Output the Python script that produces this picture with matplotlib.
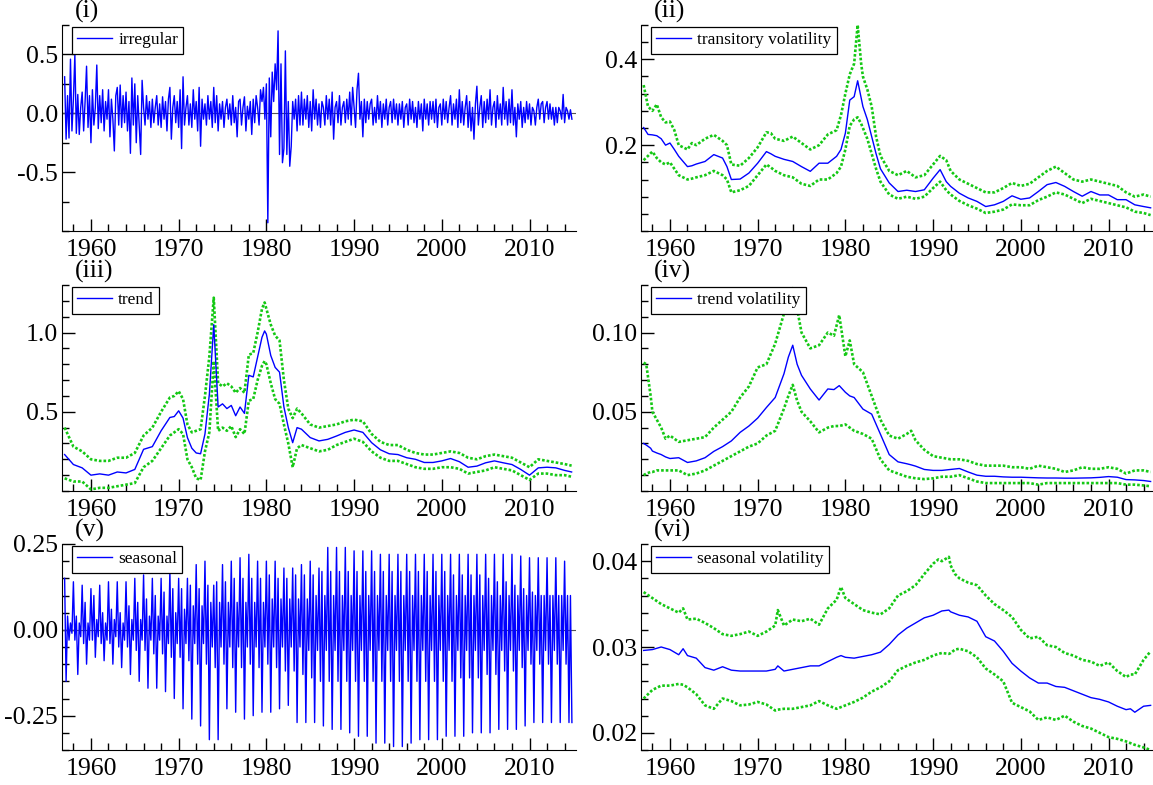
import numpy as np
import matplotlib
matplotlib.use("Agg")
import matplotlib.pyplot as plt
from matplotlib.ticker import MultipleLocator, FormatStrFormatter, FixedLocator

plt.rcParams['font.family'] = ['Liberation Serif', 'DejaVu Serif']
plt.rcParams['axes.unicode_minus'] = False

# ---- (i) irregular, six readings a year from 1957 ----
irregular = [
    0.31, -0.22, 0.15, -0.21, 0.46, -0.15,
    0.12, 0.5, -0.17, 0.16, -0.18, 0.05,
    0.18, -0.15, 0.1, 0.4, -0.12, 0.15,
    -0.25, 0.2, -0.1, 0.05, 0.41, -0.13,
    0.15, -0.08, 0.2, -0.15, 0.1, -0.05,
    0.2, -0.2, 0.12, -0.05, -0.32, 0.15,
    0.22, -0.1, 0.24, -0.12, 0.15, -0.08,
    0.18, -0.15, 0.1, -0.34, 0.3, -0.1,
    0.25, -0.25, 0.15, -0.1, -0.35, 0.28,
    0.05, -0.1, 0.15, -0.05, 0.1, -0.12,
    0.12, -0.08, 0.05, 0.15, -0.1, 0.08,
    -0.12, 0.14, -0.05, 0.1, -0.15, 0.12,
    0.22, -0.22, 0.05, 0.15, -0.08, 0.1,
    -0.12, 0.2, -0.3, 0.31, -0.1, 0.05,
    0.15, -0.1, 0.08, -0.12, 0.2, -0.05,
    0.1, -0.15, 0.22, -0.28, 0.12, -0.05,
    0.08, -0.1, 0.15, -0.05, 0.1, -0.12,
    0.22, -0.08, 0.15, -0.15, 0.08, -0.05,
    0.1, -0.12, 0.05, 0.12, -0.05, 0.08,
    -0.1, 0.15, -0.08, 0.05, -0.2, 0.1,
    0.12, -0.1, 0.05, 0.14, -0.15, 0.06,
    -0.05, 0.1, -0.18, 0.12, -0.08, 0.15,
    0.05, -0.1, 0.2, 0.1, 0.22, -0.05,
    0.25, -0.93, 0.3, -0.2, 0.35, 0.1,
    0.42, 0.2, 0.7, -0.35, 0.42, -0.42,
    -0.3, 0.53, -0.35, 0.1, -0.45, -0.28,
    0.1, -0.05, 0.12, -0.15, 0.15, -0.1,
    0.18, -0.1, 0.12, -0.05, 0.15, -0.12,
    0.1, -0.15, 0.2, -0.05, 0.12, -0.1,
    0.08, -0.12, 0.1, 0.05, -0.1, 0.15,
    -0.05, 0.12, -0.1, 0.18, -0.22, 0.05,
    0.1, -0.08, 0.15, -0.1, 0.05, 0.1,
    -0.08, 0.12, -0.05, 0.18, -0.1, 0.22,
    0.05, -0.12, 0.2, 0.34, -0.05, 0.1,
    -0.2, 0.12, -0.08, 0.1, -0.05, 0.08,
    0.12, -0.1, 0.05, -0.08, 0.15, -0.05,
    0.1, -0.12, 0.08, -0.05, 0.12, -0.1,
    0.05, 0.1, -0.08, 0.12, -0.05, 0.08,
    -0.1, 0.08, -0.05, 0.1, -0.12, 0.05,
    0.08, -0.1, 0.12, -0.05, 0.1, -0.08,
    0.05, -0.12, 0.1, -0.05, 0.08, -0.15,
    0.12, -0.05, 0.08, -0.1, 0.1, -0.05,
    0.1, -0.08, 0.12, -0.12, 0.05, 0.08,
    -0.1, 0.12, -0.05, 0.1, -0.08, 0.05,
    0.15, -0.1, 0.08, -0.05, 0.12, -0.12,
    0.2, -0.08, 0.1, -0.1, 0.05, 0.15,
    -0.12, 0.1, -0.15, 0.05, -0.22, 0.08,
    0.23, -0.1, 0.05, 0.15, -0.12, 0.1,
    -0.08, 0.12, -0.05, 0.2, -0.1, 0.05,
    0.1, -0.12, 0.15, -0.05, 0.08, -0.1,
    0.22, -0.05, 0.1, -0.1, 0.12, -0.08,
    0.2, -0.1, 0.05, -0.2, 0.08, -0.05,
    0.1, -0.12, 0.05, -0.08, 0.1, -0.05,
    0.08, -0.1, 0.05, 0.02, -0.1, 0.05,
    0.12, -0.05, 0.08, 0.1, -0.08, 0.05,
    0.1, -0.05, 0.08, -0.05, 0.05, -0.1,
    0.05, -0.08, 0.05, 0.02, -0.05, 0.16,
    -0.08, 0.05, 0.02, -0.05, 0.03, -0.05,
]

# ---- (v) seasonal, six readings a year from 1957 ----
seasonal = [
    0.15, -0.15, 0.04, -0.03, 0.02, -0.01,
    0.14, -0.03, 0.04, -0.13, 0.02, -0.02,
    0.13, -0.04, 0.08, -0.1, 0.02, -0.03,
    0.12, -0.03, 0.1, -0.08, 0.03, -0.02,
    0.13, -0.04, 0.05, -0.09, 0.02, -0.03,
    0.14, -0.04, 0.06, -0.1, 0.03, -0.02,
    0.14, -0.05, 0.05, -0.11, 0.02, -0.03,
    0.14, -0.05, 0.07, -0.13, 0.03, -0.03,
    0.15, -0.06, 0.08, -0.15, 0.03, -0.03,
    0.16, -0.06, 0.09, -0.17, 0.04, -0.03,
    0.15, -0.07, 0.1, -0.17, 0.04, -0.03,
    0.15, -0.07, 0.11, -0.18, 0.04, -0.04,
    0.17, -0.08, 0.12, -0.2, 0.05, -0.04,
    0.15, -0.08, 0.12, -0.23, 0.06, -0.04,
    0.15, -0.09, 0.13, -0.26, 0.07, -0.04,
    0.19, -0.1, 0.12, -0.28, 0.07, -0.04,
    0.2, -0.1, 0.13, -0.32, 0.08, -0.05,
    0.13, -0.11, 0.14, -0.32, 0.08, -0.05,
    0.19, -0.1, 0.14, -0.23, 0.08, -0.05,
    0.2, -0.11, 0.15, -0.24, 0.08, -0.05,
    0.21, -0.11, 0.15, -0.26, 0.08, -0.05,
    0.22, -0.1, 0.15, -0.25, 0.08, -0.05,
    0.2, -0.11, 0.15, -0.24, 0.08, -0.05,
    0.2, -0.1, 0.16, -0.24, 0.09, -0.05,
    0.2, -0.11, 0.15, -0.23, 0.09, -0.05,
    0.18, -0.12, 0.15, -0.22, 0.09, -0.05,
    0.18, -0.12, 0.16, -0.27, 0.09, -0.05,
    0.19, -0.13, 0.16, -0.27, 0.09, -0.06,
    0.2, -0.14, 0.16, -0.27, 0.1, -0.06,
    0.18, -0.15, 0.17, -0.28, 0.1, -0.06,
    0.24, -0.15, 0.17, -0.29, 0.1, -0.06,
    0.24, -0.15, 0.17, -0.29, 0.1, -0.06,
    0.24, -0.15, 0.17, -0.3, 0.1, -0.06,
    0.23, -0.15, 0.17, -0.31, 0.1, -0.06,
    0.23, -0.15, 0.17, -0.31, 0.1, -0.06,
    0.23, -0.15, 0.17, -0.33, 0.1, -0.06,
    0.22, -0.15, 0.17, -0.33, 0.1, -0.06,
    0.22, -0.15, 0.17, -0.34, 0.1, -0.06,
    0.22, -0.15, 0.17, -0.34, 0.1, -0.06,
    0.22, -0.15, 0.17, -0.33, 0.1, -0.06,
    0.22, -0.15, 0.17, -0.32, 0.1, -0.06,
    0.22, -0.15, 0.17, -0.32, 0.1, -0.06,
    0.22, -0.15, 0.17, -0.32, 0.1, -0.06,
    0.22, -0.15, 0.17, -0.31, 0.1, -0.06,
    0.22, -0.15, 0.16, -0.31, 0.1, -0.06,
    0.22, -0.14, 0.16, -0.31, 0.1, -0.06,
    0.22, -0.14, 0.16, -0.3, 0.1, -0.06,
    0.22, -0.14, 0.16, -0.3, 0.1, -0.06,
    0.22, -0.13, 0.15, -0.3, 0.1, -0.06,
    0.22, -0.13, 0.14, -0.29, 0.1, -0.06,
    0.22, -0.12, 0.14, -0.29, 0.1, -0.06,
    0.22, -0.12, 0.13, -0.29, 0.1, -0.06,
    0.215, -0.11, 0.12, -0.28, 0.1, -0.06,
    0.21, -0.1, 0.11, -0.27, 0.1, -0.06,
    0.21, -0.1, 0.1, -0.27, 0.1, -0.06,
    0.21, -0.1, 0.1, -0.27, 0.1, -0.06,
    0.21, -0.1, 0.1, -0.27, 0.1, -0.06,
    0.2, -0.1, 0.1, -0.27, 0.1, -0.27,
]

# ---- (ii) transitory volatility with bands ----
yrs_ii = [1957, 1957.5, 1958, 1958.5, 1959, 1959.5, 1960, 1960.5,
          1961, 1962, 1962.5, 1963, 1964, 1965, 1966, 1966.5,
          1967, 1968, 1969, 1970, 1971, 1971.5, 1972, 1973,
          1974, 1975, 1976, 1977, 1978, 1979, 1979.5, 1980,
          1980.5, 1981, 1981.4, 1981.8, 1982, 1982.5, 1983, 1983.5,
          1984, 1985, 1986, 1987, 1988, 1989, 1990, 1990.8,
          1991.5, 1992, 1993, 1994, 1995, 1996, 1997, 1998,
          1999, 2000, 2001, 2002, 2003, 2004, 2005, 2006,
          2007, 2008, 2009, 2010, 2011, 2012, 2013, 2014, 2014.8]
vol_ii = [0.241, 0.225, 0.224, 0.222, 0.215, 0.2, 0.205, 0.19,
          0.174, 0.15, 0.152, 0.156, 0.162, 0.178, 0.17, 0.15,
          0.12, 0.121, 0.135, 0.158, 0.185, 0.18, 0.174, 0.167,
          0.162, 0.15, 0.139, 0.158, 0.158, 0.174, 0.19, 0.228,
          0.305, 0.313, 0.35, 0.31, 0.29, 0.26, 0.22, 0.18,
          0.145, 0.112, 0.092, 0.095, 0.092, 0.096, 0.123, 0.143,
          0.115, 0.104, 0.088, 0.077, 0.069, 0.057, 0.061, 0.069,
          0.082, 0.074, 0.077, 0.092, 0.108, 0.113, 0.104, 0.092,
          0.081, 0.092, 0.084, 0.084, 0.073, 0.073, 0.061, 0.057, 0.054]
hi_ii = [0.34, 0.29, 0.28, 0.295, 0.265, 0.253, 0.255, 0.235,
         0.2, 0.19, 0.205, 0.2, 0.215, 0.224, 0.21, 0.2,
         0.155, 0.152, 0.17, 0.195, 0.23, 0.228, 0.215, 0.21,
         0.22, 0.205, 0.19, 0.2, 0.225, 0.235, 0.27, 0.32,
         0.365, 0.39, 0.48, 0.39, 0.36, 0.33, 0.29, 0.22,
         0.175, 0.14, 0.13, 0.14, 0.125, 0.13, 0.155, 0.175,
         0.165, 0.14, 0.12, 0.11, 0.1, 0.09, 0.09, 0.1,
         0.112, 0.105, 0.11, 0.125, 0.14, 0.15, 0.135, 0.12,
         0.115, 0.12, 0.115, 0.11, 0.105, 0.09, 0.08, 0.085, 0.08]
lo_ii = [0.165, 0.175, 0.185, 0.17, 0.16, 0.155, 0.16, 0.145,
         0.13, 0.12, 0.122, 0.125, 0.13, 0.14, 0.13, 0.12,
         0.09, 0.095, 0.105, 0.13, 0.155, 0.148, 0.14, 0.13,
         0.125, 0.11, 0.105, 0.12, 0.12, 0.135, 0.15, 0.19,
         0.245, 0.26, 0.265, 0.25, 0.24, 0.215, 0.18, 0.145,
         0.115, 0.085, 0.075, 0.08, 0.075, 0.08, 0.1, 0.115,
         0.095, 0.085, 0.07, 0.06, 0.052, 0.042, 0.045, 0.05,
         0.062, 0.06, 0.06, 0.072, 0.08, 0.09, 0.085, 0.075,
         0.065, 0.075, 0.07, 0.065, 0.06, 0.055, 0.045, 0.042, 0.037]

# ---- (iii) trend with bands ----
yrs_iii = [1957, 1958, 1959, 1960, 1961, 1962, 1963, 1964,
           1965, 1966, 1967, 1968, 1969, 1969.5, 1970, 1970.5,
           1971, 1971.5, 1972, 1972.5, 1973, 1973.5, 1974, 1974.5,
           1975, 1975.5, 1976, 1976.5, 1977, 1977.5, 1978, 1978.5,
           1979, 1979.5, 1979.8, 1980, 1980.5, 1981, 1981.5, 1982,
           1982.5, 1983, 1983.5, 1984, 1985, 1986, 1987, 1988,
           1989, 1990, 1991, 1992, 1993, 1994, 1995, 1996,
           1997, 1998, 1999, 2000, 2001, 2002, 2003, 2004,
           2005, 2006, 2007, 2008, 2009, 2010, 2011, 2012,
           2013, 2014, 2014.8]
trend = [0.23, 0.167, 0.146, 0.10, 0.108, 0.10, 0.12, 0.114,
         0.136, 0.263, 0.28, 0.38, 0.464, 0.47, 0.506, 0.46,
         0.337, 0.27, 0.24, 0.235, 0.36, 0.61, 1.05, 0.53,
         0.55, 0.52, 0.54, 0.475, 0.53, 0.49, 0.73, 0.72,
         0.845, 0.97, 1.01, 0.99, 0.855, 0.78, 0.75, 0.53,
         0.40, 0.305, 0.40, 0.39, 0.337, 0.316, 0.326, 0.347,
         0.37, 0.385, 0.37, 0.305, 0.26, 0.235, 0.23, 0.21,
         0.20, 0.18, 0.18, 0.19, 0.205, 0.185, 0.15, 0.157,
         0.178, 0.19, 0.178, 0.167, 0.136, 0.10, 0.146, 0.15,
         0.146, 0.13, 0.12]
hi_iii = [0.40, 0.28, 0.25, 0.20, 0.19, 0.19, 0.21, 0.21,
          0.24, 0.35, 0.40, 0.50, 0.59, 0.60, 0.63, 0.58,
          0.42, 0.37, 0.38, 0.39, 0.60, 0.85, 1.22, 0.68,
          0.66, 0.68, 0.66, 0.62, 0.65, 0.62, 0.86, 0.87,
          1.00, 1.15, 1.19, 1.15, 1.05, 0.98, 0.95, 0.70,
          0.52, 0.46, 0.52, 0.49, 0.42, 0.40, 0.41, 0.42,
          0.44, 0.45, 0.44, 0.36, 0.31, 0.29, 0.29, 0.26,
          0.24, 0.23, 0.23, 0.24, 0.25, 0.24, 0.21, 0.20,
          0.22, 0.23, 0.22, 0.21, 0.18, 0.15, 0.20, 0.19,
          0.18, 0.17, 0.16]
lo_iii = [0.08, 0.06, 0.06, 0.01, 0.02, 0.02, 0.03, 0.04,
          0.05, 0.15, 0.19, 0.27, 0.35, 0.37, 0.39, 0.36,
          0.20, 0.15, 0.08, 0.07, 0.25, 0.37, 0.82, 0.38,
          0.40, 0.38, 0.41, 0.34, 0.39, 0.36, 0.57, 0.58,
          0.70, 0.79, 0.82, 0.80, 0.68, 0.58, 0.55, 0.42,
          0.30, 0.15, 0.27, 0.29, 0.27, 0.25, 0.26, 0.29,
          0.31, 0.33, 0.31, 0.25, 0.21, 0.19, 0.19, 0.17,
          0.15, 0.14, 0.14, 0.15, 0.15, 0.14, 0.11, 0.12,
          0.13, 0.15, 0.14, 0.13, 0.10, 0.07, 0.11, 0.11,
          0.10, 0.10, 0.09]

# ---- (iv) trend volatility with bands ----
yrs_iv = [1957, 1957.3, 1957.8, 1958, 1958.5, 1959, 1959.5, 1960,
          1961, 1962, 1963, 1964, 1965, 1966, 1967, 1968, 1969, 1970, 1971, 1972,
          1973, 1973.5, 1974, 1974.5, 1975, 1976, 1977, 1978,
          1978.7, 1979.3, 1980, 1980.5, 1981, 1982, 1983, 1984,
          1985, 1986, 1987, 1987.5, 1988, 1989, 1990,
          1991, 1992, 1993, 1994, 1995, 1996, 1997, 1998, 1999, 2000, 2001, 2002,
          2003, 2004, 2005, 2006, 2007, 2008, 2009, 2010, 2011, 2012, 2013, 2014,
          2014.8]
vol_iv = [0.030, 0.029, 0.027, 0.0252, 0.024, 0.023, 0.0215, 0.0205,
          0.021, 0.018, 0.019, 0.021, 0.025, 0.028, 0.0316, 0.037, 0.041, 0.046, 0.0527, 0.059,
          0.074, 0.0845, 0.092, 0.080, 0.073, 0.0644, 0.0574, 0.0644,
          0.064, 0.0665, 0.0623, 0.060, 0.059, 0.0517, 0.0485, 0.0358,
          0.023, 0.0184, 0.0172, 0.0165, 0.0157, 0.0136, 0.013,
          0.013, 0.0136, 0.0142, 0.012, 0.010, 0.0093, 0.0093, 0.0089, 0.0087, 0.0087, 0.0085, 0.0083,
          0.0082, 0.0082, 0.0081, 0.0081, 0.0082, 0.0083, 0.0086, 0.0091, 0.0087, 0.0072, 0.0070, 0.0066,
          0.006]
hi_iv = [0.081, 0.080, 0.060, 0.050, 0.045, 0.040, 0.033, 0.035,
         0.031, 0.032, 0.033, 0.034, 0.040, 0.045, 0.050, 0.059, 0.066, 0.078, 0.080, 0.093,
         0.112, 0.120, 0.128, 0.115, 0.100, 0.090, 0.092, 0.100,
         0.098, 0.111, 0.085, 0.095, 0.080, 0.075, 0.060, 0.045,
         0.035, 0.033, 0.036, 0.038, 0.032, 0.026, 0.022,
         0.021, 0.020, 0.020, 0.019, 0.017, 0.016, 0.016, 0.016, 0.015, 0.015, 0.014, 0.016,
         0.015, 0.014, 0.012, 0.013, 0.015, 0.014, 0.014, 0.015, 0.014, 0.011, 0.013, 0.013,
         0.012]
lo_iv = [0.010, 0.011, 0.012, 0.012, 0.013, 0.013, 0.013, 0.013,
         0.013, 0.010, 0.011, 0.013, 0.016, 0.019, 0.022, 0.025, 0.028, 0.030, 0.035, 0.038,
         0.052, 0.060, 0.067, 0.057, 0.050, 0.044, 0.037, 0.040,
         0.041, 0.041, 0.042, 0.040, 0.038, 0.036, 0.033, 0.020,
         0.013, 0.011, 0.009, 0.0085, 0.008, 0.0075, 0.008,
         0.009, 0.009, 0.010, 0.008, 0.006, 0.005, 0.005, 0.005, 0.005, 0.005, 0.005, 0.004,
         0.005, 0.005, 0.005, 0.005, 0.005, 0.005, 0.005, 0.005, 0.005, 0.004, 0.004, 0.0035,
         0.003]

# ---- (vi) seasonal volatility with bands ----
yrs_vi = [1957, 1958, 1959, 1960, 1961, 1961.5, 1962, 1963,
          1964, 1965, 1966, 1967, 1968, 1969, 1970, 1971,
          1972, 1972.3, 1973, 1974, 1975, 1976, 1977, 1978, 1979,
          1979.5, 1980, 1981, 1982, 1983, 1984, 1985, 1986, 1987, 1988, 1989, 1990,
          1990.6, 1991, 1991.8, 1992, 1992.5,
          1993, 1994, 1995, 1996, 1997, 1998, 1999, 2000, 2001, 2002,
          2003, 2004, 2005, 2006, 2007, 2008, 2009, 2010, 2011, 2012,
          2012.5, 2013, 2014, 2014.8]
vol_vi = [0.0296, 0.0297, 0.0300, 0.0297, 0.0291, 0.0298, 0.0290, 0.0287,
          0.0276, 0.0273, 0.0277, 0.0273, 0.0272, 0.0272, 0.0272, 0.0272,
          0.0274, 0.0278, 0.0272, 0.0274, 0.0276, 0.0278, 0.0278, 0.0283, 0.0288,
          0.0290, 0.0288, 0.0287, 0.0289, 0.0291, 0.0294, 0.0303, 0.0314, 0.0322, 0.0328, 0.0334, 0.0337,
          0.0340, 0.0342, 0.0343, 0.0341, 0.0339,
          0.0337, 0.0335, 0.0330, 0.0312, 0.0307, 0.0295, 0.0281, 0.0272, 0.0264, 0.0258,
          0.0258, 0.0254, 0.0253, 0.0249, 0.0245, 0.0241, 0.0239, 0.0236, 0.0231, 0.0227,
          0.0228, 0.0224, 0.0231, 0.0232]
hi_vi = [0.0364, 0.0357, 0.0350, 0.0345, 0.0340, 0.0345, 0.0332, 0.0333,
         0.0328, 0.0322, 0.0315, 0.0313, 0.0315, 0.0318, 0.0313, 0.0318,
         0.0325, 0.0343, 0.0325, 0.0332, 0.0330, 0.0333, 0.0326, 0.0345, 0.0355,
         0.0370, 0.0357, 0.0350, 0.0343, 0.0340, 0.0338, 0.0345, 0.0360, 0.0365, 0.0372, 0.0385, 0.0397,
         0.0402, 0.0400, 0.0405, 0.0395, 0.0385,
         0.0380, 0.0375, 0.0372, 0.0360, 0.0350, 0.0343, 0.0335, 0.0320, 0.0310, 0.0312,
         0.0302, 0.0300, 0.0293, 0.0290, 0.0285, 0.0283, 0.0278, 0.0282, 0.0272, 0.0265,
         0.0268, 0.0268, 0.0285, 0.0295]
lo_vi = [0.0240, 0.0250, 0.0255, 0.0255, 0.0257, 0.0256, 0.0253, 0.0245,
         0.0232, 0.0228, 0.0240, 0.0237, 0.0232, 0.0233, 0.0236, 0.0233,
         0.0226, 0.0227, 0.0228, 0.0228, 0.0230, 0.0232, 0.0237, 0.0232, 0.0228,
         0.0230, 0.0232, 0.0236, 0.0241, 0.0248, 0.0253, 0.0260, 0.0273, 0.0278, 0.0282, 0.0285, 0.0290,
         0.0292, 0.0293, 0.0292, 0.0293, 0.0297,
         0.0298, 0.0295, 0.0288, 0.0275, 0.0268, 0.0260, 0.0235, 0.0230, 0.0225, 0.0215,
         0.0218, 0.0215, 0.0220, 0.0213, 0.0208, 0.0205, 0.0200, 0.0195, 0.0193, 0.0190,
         0.0188, 0.0186, 0.0183, 0.0180]

t6 = 1957 + np.arange(len(irregular)) / 6.0
t6s = 1957 + np.arange(len(seasonal)) / 6.0

BLUE = '#0000ff'
GREEN = '#14c814'
FS = 18.5

fig = plt.figure(figsize=(11.53, 7.85), dpi=100)
W, H = 1153.0, 785.0
lefts = [62 / W, 641 / W]
widths = [514 / W, 514 / W]
bottoms = [1 - 231 / H, 1 - 491 / H, 1 - 750 / H]
ah = 206 / H

axes = []
for r in range(3):
    for c in range(2):
        axes.append(fig.add_axes([lefts[c], bottoms[r], widths[c], ah]))


def style(ax, ylim, major, minor, fmt, label):
    ax.set_xlim(1956.7, 2015.3)
    ax.set_ylim(*ylim)
    ax.spines['top'].set_visible(False)
    ax.spines['right'].set_visible(False)
    ax.xaxis.set_major_locator(MultipleLocator(10))
    ax.xaxis.set_minor_locator(MultipleLocator(2))
    ax.yaxis.set_major_locator(FixedLocator(major))
    ax.yaxis.set_minor_locator(MultipleLocator(minor))
    ax.yaxis.set_major_formatter(FormatStrFormatter(fmt))
    ax.tick_params(which='both', direction='in', labelsize=FS, width=1.0)
    ax.tick_params(which='major', length=9)
    ax.tick_params(which='minor', length=5)
    ax.tick_params(axis='x', pad=6)
    ax.tick_params(axis='y', pad=3)
    ax.text(0.025, 1.065, label, transform=ax.transAxes, fontsize=FS,
            ha='left', va='center')


def legend(ax):
    leg = ax.legend(loc='upper left', bbox_to_anchor=(0.02, 0.99),
                    borderaxespad=0, fontsize=12.5, frameon=True,
                    fancybox=False, handlelength=2.0, handletextpad=0.35,
                    borderpad=0.3)
    leg.get_frame().set_edgecolor('black')
    leg.get_frame().set_linewidth(0.9)
    leg.get_frame().set_alpha(1)


band = dict(color=GREEN, lw=1.9, linestyle=(0, (1.0, 0.75)))

# (i)
ax = axes[0]
ax.axhline(0, color='#555555', lw=0.8)
ax.plot(t6, irregular, color=BLUE, lw=1.0, label='irregular')
style(ax, (-1.0, 0.75), [-0.5, 0.0, 0.5], 0.25, '%.1f', '(i)')
legend(ax)

# (ii)
ax = axes[1]
ax.plot(yrs_ii, hi_ii, **band)
ax.plot(yrs_ii, lo_ii, **band)
ax.plot(yrs_ii, vol_ii, color=BLUE, lw=1.0, label='transitory volatility')
style(ax, (0.0, 0.48), [0.2, 0.4], 0.04, '%.1f', '(ii)')
legend(ax)

# (iii)
ax = axes[2]
ax.plot(yrs_iii, hi_iii, **band)
ax.plot(yrs_iii, lo_iii, **band)
ax.plot(yrs_iii, trend, color=BLUE, lw=1.0, label='trend')
style(ax, (0.0, 1.3), [0.5, 1.0], 0.1, '%.1f', '(iii)')
legend(ax)

# (iv)
ax = axes[3]
ax.plot(yrs_iv, hi_iv, **band)
ax.plot(yrs_iv, lo_iv, **band)
ax.plot(yrs_iv, vol_iv, color=BLUE, lw=1.0, label='trend volatility')
style(ax, (0.0, 0.13), [0.05, 0.10], 0.01, '%.2f', '(iv)')
legend(ax)

# (v)
ax = axes[4]
ax.axhline(0, color='#555555', lw=0.8)
ax.plot(t6s, seasonal, color=BLUE, lw=1.0, label='seasonal')
style(ax, (-0.35, 0.25), [-0.25, 0.0, 0.25], 0.05, '%.2f', '(v)')
legend(ax)

# (vi)
ax = axes[5]
ax.plot(yrs_vi, hi_vi, **band)
ax.plot(yrs_vi, lo_vi, **band)
ax.plot(yrs_vi, vol_vi, color=BLUE, lw=1.0, label='seasonal volatility')
style(ax, (0.018, 0.042), [0.02, 0.03, 0.04], 0.002, '%.2f', '(vi)')
legend(ax)

fig.savefig('out.png', dpi=100)
